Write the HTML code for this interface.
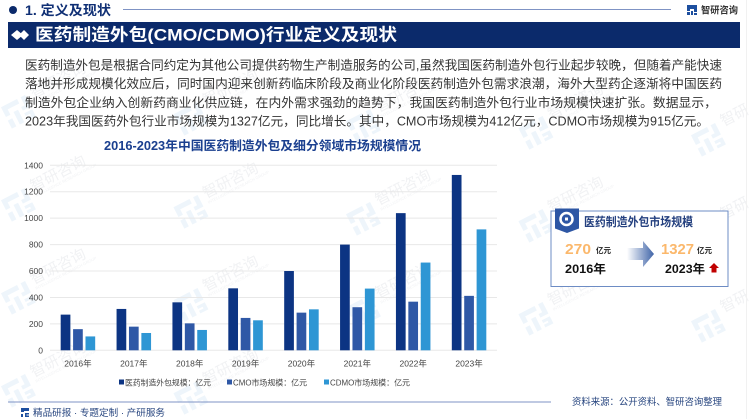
<!DOCTYPE html>
<html lang="zh-CN">
<head>
<meta charset="utf-8">
<title>医药制造外包行业定义及现状</title>
<style>
html,body{margin:0;padding:0;background:#fff;width:750px;height:419px;overflow:hidden}
svg{display:block}
text{font-family:"Liberation Sans","Noto Sans CJK SC",sans-serif}
</style>
</head>
<body>
<svg id="page" xmlns="http://www.w3.org/2000/svg" width="750" height="419" viewBox="0 0 750 419">
  <defs>
    <linearGradient id="arrowGrad" x1="0" x2="1" y1="0" y2="0">
      <stop offset="0" stop-color="#ffffff"/>
      <stop offset="1" stop-color="#3f64a8"/>
    </linearGradient>
  </defs>
  <g id="watermarks"></g>
  <line x1="746.500" y1="0" x2="746.500" y2="419" stroke="#f1f1f1" stroke-width="1"/>

  <circle cx="13" cy="10" r="4" fill="#0b2a6b"/>
  <text x="25" y="15" font-size="13.500" font-weight="700" fill="#0f2f74" textLength="86" lengthAdjust="spacingAndGlyphs">1. 定义及现状</text>
  <line x1="123" y1="9.500" x2="671" y2="9.500" stroke="#7f93c4" stroke-width="1"/>
  <g>
    <path d="M687 5h10v4h-7v2h-3zM687 12h3v3h-3zM691 11h2v4h-2zM694 9h3v3h-3zM694 13h3v2h-3z" fill="#1d4f9f"/>
    <text x="701" y="13.500" font-size="9.500" font-weight="700" fill="#333" textLength="37" lengthAdjust="spacingAndGlyphs">智研咨询</text>
  </g>

  <rect x="8" y="22" width="732" height="26" fill="#0b2a6b"/>
  <path d="M11 35l6-5 6 5-6 5z" fill="#fff"/>
  <path d="M19 35l5-5 5 5-5 5z" fill="#fff"/>
  <text x="35" y="40.500" font-size="17" font-weight="700" fill="#fff" textLength="362" lengthAdjust="spacingAndGlyphs">医药制造外包(CMO/CDMO)行业定义及现状</text>

  <g font-size="12.600" fill="#333">
    <text x="25" y="69.500" textLength="697" lengthAdjust="spacingAndGlyphs">医药制造外包是根据合同约定为其他公司提供药物生产制造服务的公司,虽然我国医药制造外包行业起步较晚，但随着产能快速</text>
    <text x="25" y="88" textLength="697" lengthAdjust="spacingAndGlyphs">落地并形成规模化效应后，同时国内迎来创新药临床阶段及商业化阶段医药制造外包需求浪潮，海外大型药企逐渐将中国医药</text>
    <text x="25" y="107" textLength="692" lengthAdjust="spacingAndGlyphs">制造外包企业纳入创新药商业化供应链，在内外需求强劲的趋势下，我国医药制造外包行业市场规模快速扩张。数据显示，</text>
    <text x="25" y="125.500" textLength="684" lengthAdjust="spacingAndGlyphs">2023年我国医药外包行业市场规模为1327亿元，同比增长。其中，CMO市场规模为412亿元，CDMO市场规模为915亿元。</text>
  </g>

  <text x="104" y="150" font-size="12.500" font-weight="700" fill="#1a3f8f" textLength="317" lengthAdjust="spacingAndGlyphs">2016-2023年中国医药制造外包及细分领域市场规模情况</text>

  <g id="chart"></g>

  <g>
    <rect x="551" y="211" width="177" height="75.500" fill="#fff" stroke="#6d8cc4" stroke-width="1"/>
    <path d="M555 208.500h24v20l-12 4.500-12-4.500z" fill="#2d56a4"/>
    <circle cx="566.500" cy="219" r="6" fill="none" stroke="#fff" stroke-width="2.500"/>
    <rect x="565" y="217.500" width="3" height="3" fill="#fff"/>
    <text x="584" y="226" font-size="12" font-weight="700" fill="#24407f" textLength="109" lengthAdjust="spacingAndGlyphs">医药制造外包市场规模</text>
    <text x="565" y="254" font-size="14.500" font-weight="700" fill="#fbb86c" textLength="26" lengthAdjust="spacingAndGlyphs">270</text>
    <text x="596" y="253" font-size="7.500" font-weight="700" fill="#222">亿元</text>
    <text x="565" y="273" font-size="12" font-weight="700" fill="#111" textLength="41" lengthAdjust="spacingAndGlyphs">2016年</text>
    <path d="M627 248h16v-7l11 13-11 13v-7h-16z" fill="url(#arrowGrad)"/>
    <text x="661" y="254" font-size="14.500" font-weight="700" fill="#fbb86c" textLength="33" lengthAdjust="spacingAndGlyphs">1327</text>
    <text x="697" y="253" font-size="7.500" font-weight="700" fill="#222">亿元</text>
    <text x="665" y="273" font-size="12" font-weight="700" fill="#111" textLength="40" lengthAdjust="spacingAndGlyphs">2023年</text>
    <path d="M714 263l5 5h-2.500v4.500h-5v-4.500h-2.500z" fill="#c00000"/>
  </g>

  <line x1="8" y1="402" x2="551" y2="402" stroke="#7f93c4" stroke-width="1"/>
  <path d="M21 408h8v3h-5v1h-3zM21 414h2v3h-2zM25 413h4v1.500h-2.500v1h2.500v1.500h-4z" fill="#1d4f9f"/>
  <text x="33" y="416" font-size="9.500" fill="#27457f" textLength="132" lengthAdjust="spacingAndGlyphs">精品研报 · 专题定制 · 产研服务</text>
  <text x="572" y="405" font-size="9.500" fill="#27457f" textLength="150" lengthAdjust="spacingAndGlyphs">资料来源：公开资料、智研咨询整理</text>
</svg>

<script>
var categories = ["2016年","2017年","2018年","2019年","2020年","2021年","2022年","2023年"];
var totalValues = [270,313,363,469,600,800,1038,1327];
var cmoValues = [160,179,204,245,285,326,368,412];
var cdmoValues = [105,131,154,227,310,467,664,915];
var yTicks = [0,200,400,600,800,1000,1200,1400];
var seriesNames = ["医药制造外包规模：亿元","CMO市场规模：亿元","CDMO市场规模：亿元"];

var NS = "http://www.w3.org/2000/svg";
var chart = document.getElementById("chart");
var plotLeft = 50, plotRight = 497, plotTop = 165.3, plotBottom = 350.3, yMax = 1400;
var barWidth = 9.7, barStep = 12.4;
var seriesColors = ["#0c3483","#2f58a6","#2e96d4"];

function yScale(v){ return plotBottom - (v / yMax) * (plotBottom - plotTop); }
function xCenter(i){ return plotLeft + (plotRight - plotLeft) * (i + 0.5) / categories.length; }
function make(tag, attrs, parent){
  var el = document.createElementNS(NS, tag);
  for (var k in attrs) el.setAttribute(k, attrs[k]);
  parent.appendChild(el);
  return el;
}

yTicks.forEach(function(t){
  var line = make("line", {x1:plotLeft, x2:plotRight, y1:yScale(t), y2:yScale(t), stroke:"#e8e8e8", "stroke-width":1}, chart);
  
  
  var label = make("text", {x:43, y:yScale(t) + 3, "text-anchor":"end", "font-size":8.500, fill:"#444"}, chart);
  
  
  label.textContent = t;
});

[totalValues, cmoValues, cdmoValues].forEach(function(values, s){
  values.forEach(function(v, i){
    var bar = make("rect", {
      x: xCenter(i) + (s - 1) * barStep - barWidth / 2,
      y: yScale(v),
      width: barWidth,
      height: plotBottom - yScale(v),
      fill: seriesColors[s]
    }, chart);
    
    
  });
});

categories.forEach(function(c, i){
  var label = make("text", {x:xCenter(i), y:366.500, "text-anchor":"middle", "font-size":8.500, fill:"#444"}, chart);
  
  
  label.textContent = c;
});

var legendSwatchX = [119,227,324];
var legendWidths = [86,74,80];
seriesNames.forEach(function(n, s){
  var swatch = make("rect", {x:legendSwatchX[s], y:379.500, width:5, height:5, fill:seriesColors[s]}, chart);
  
  
  var label = make("text", {x:legendSwatchX[s] + 6, y:385.500, "font-size":8, fill:"#444", textLength:legendWidths[s], lengthAdjust:"spacingAndGlyphs"}, chart);
  
  
  label.textContent = n;
});

var wmLayer = document.getElementById("watermarks");
for (var row = -1; row < 3; row++) {
  for (var col = 0; col < 5; col++) {
    var ox = 18 + col * 172.5;
    var oy = 205 + row * 93 + col * 7;
    if (oy > 400) continue;
    var g = make("g", {transform:"translate(" + ox + "," + oy + ") rotate(-27)"}, wmLayer);
    
    
    var mark = make("path", {d:"M-13-12h18v5h-13v6h-5zM-13 3h5v9h-5zM-4-2h5v14h-5zM9-12h5v13h-9v-4h4zM5 4h9v8h-9v-3h5v-2h-5z", fill:"#eef5fb"}, g);
    
    
    var wt = make("text", {x:20, y:-5, "font-size":15, fill:"#f1f2f4"}, g);
    
    
    wt.textContent = col === 4 ? "智研" : "智研咨询";
    if (col < 4) {
      var wsub = make("text", {x:20, y:1, "font-size":4, fill:"#f1f2f4"}, g);
      
      
      wsub.textContent = "INTELLIGENCE RESEARCH GROUP";
    }
  }
}
</script>
</body>
</html>
